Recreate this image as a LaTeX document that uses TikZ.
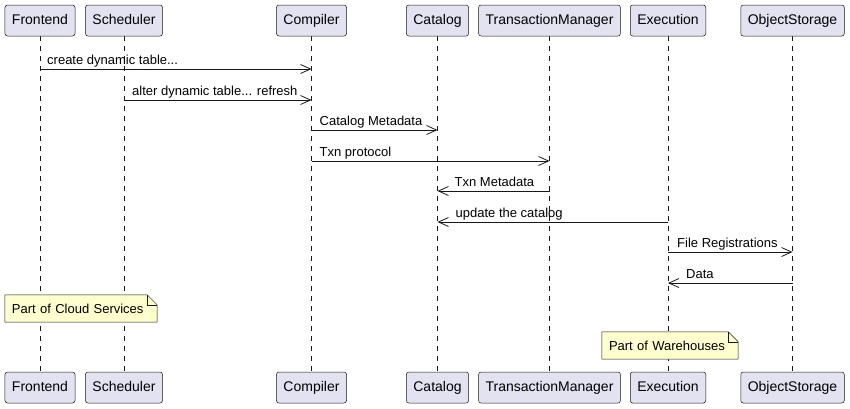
\documentclass[tikz,border=0pt]{standalone}
\usepackage{fontspec}
\setmainfont{Liberation Sans}
\usetikzlibrary{arrows.meta}
\definecolor{partfill}{HTML}{E2E2F0}
\definecolor{ink}{HTML}{181818}
\definecolor{notefill}{HTML}{FEFECE}
\pgfdeclarelayer{lifelayer}
\pgfdeclarelayer{notelayer}
\pgfsetlayers{lifelayer,notelayer,main}
\begin{document}
\begin{tikzpicture}[x=1pt,y=-1pt,font=\fontsize{13}{15}\selectfont,
  part/.style={draw=ink,line width=0.5pt,fill=partfill,rounded corners=2.5pt,minimum height=31pt,inner xsep=7pt,inner ysep=0pt,text height=10pt,text depth=3pt,font=\fontsize{14}{16}\selectfont},
  life/.style={draw=ink,line width=0.5pt,dash pattern=on 5pt off 5pt},
  msg/.style={draw=ink,line width=0.8pt,-{Straight Barb[length=10pt,width=9pt]}},
  lbl/.style={inner sep=0pt,anchor=base west},
  notetext/.style={inner xsep=7pt,inner ysep=0pt,minimum height=27pt,align=left},
  notebox/.style={draw=ink,line width=0.5pt,fill=notefill}]
\useasboundingbox (0,0) rectangle (850,408);
% participants
\foreach \nm/\x/\t in {F/40/Frontend,S/124/Scheduler,C/311.5/Compiler,K/437.5/Catalog,T/549.5/TransactionManager,E/668/Execution,O/792.5/ObjectStorage}{
  \node[part] (\nm t) at (\x,20.5) {\t};
  \node[part] (\nm b) at (\x,387.5) {\t};
}
% lifelines
\begin{pgfonlayer}{lifelayer}
\foreach \nm in {F,S,C,K,T,E,O}{
  \draw[life] (\nm t.south) -- (\nm b.north);
}
\end{pgfonlayer}
% message rows
\coordinate (m1) at (0,69);
\coordinate (m2) at (0,100);
\coordinate (m3) at (0,130);
\coordinate (m4) at (0,161);
\coordinate (m5) at (0,191);
\coordinate (m6) at (0,222);
\coordinate (m7) at (0,252);
\coordinate (m8) at (0,283);
\draw[msg] (Ft |- m1) -- (Ct |- m1);
\node[lbl] (l1) at ([shift={(7,-5)}]Ft |- m1) {create dynamic table...};
\draw[msg] (St |- m2) -- (Ct |- m2);
\node[lbl] (l2) at ([shift={(8,-5)}]St |- m2) {alter dynamic table... refresh};
\draw[msg] (Ct |- m3) -- (Kt |- m3);
\node[lbl] (l3) at ([shift={(8,-5)}]Ct |- m3) {Catalog Metadata};
\draw[msg] (Ct |- m4) -- (Tt |- m4);
\node[lbl] (l4) at ([shift={(8,-5)}]Ct |- m4) {Txn protocol};
\draw[msg] (Tt |- m5) -- (Kt |- m5);
\node[lbl] (l5) at ([shift={(17,-5)}]Kt |- m5) {Txn Metadata};
\draw[msg] (Et |- m6) -- (Kt |- m6);
\node[lbl] (l6) at ([shift={(18,-5)}]Kt |- m6) {update the catalog};
\draw[msg] (Et |- m7) -- (Ot |- m7);
\node[lbl] (l7) at ([shift={(9,-5)}]Et |- m7) {File Registrations};
\draw[msg] (Ot |- m8) -- (Et |- m8);
\node[lbl] (l8) at ([shift={(18,-5)}]Et |- m8) {Data};
% notes
\node[notetext,text width=138pt] (n1) at (81,308.5) {Part of Cloud Services};
\node[notetext,text width=122pt] (n2) at (670,345.5) {Part of Warehouses};
\begin{pgfonlayer}{notelayer}
\foreach \n in {n1,n2}{
  \draw[notebox] (\n.north west) -- ([xshift=-10pt]\n.north east) -- ([yshift=-10pt]\n.north east) -- (\n.south east) -- (\n.south west) -- cycle;
  \draw[draw=ink,line width=0.5pt] ([xshift=-10pt]\n.north east) -- ([xshift=-10pt,yshift=-10pt]\n.north east) -- ([yshift=-10pt]\n.north east);
}
\end{pgfonlayer}
\end{tikzpicture}
\end{document}
